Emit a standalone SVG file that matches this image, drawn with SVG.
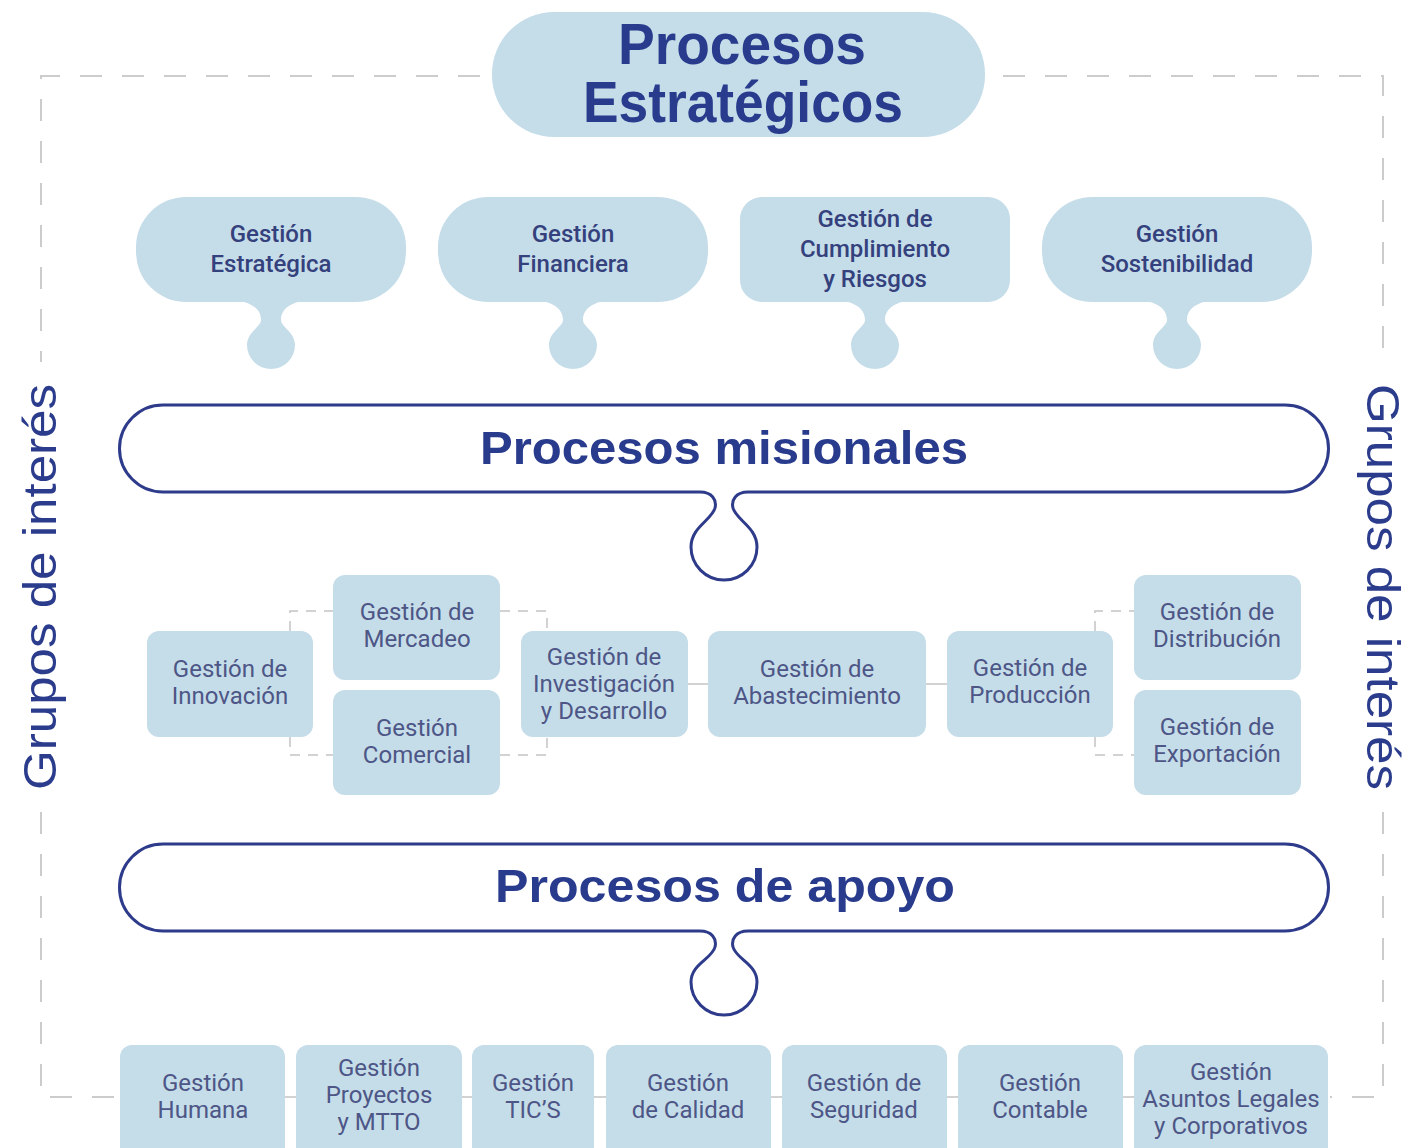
<svg xmlns="http://www.w3.org/2000/svg" width="1409" height="1148" viewBox="0 0 1409 1148">
<style>
.pill{fill:#c5dde9}
.st{font-family:Roboto,"Liberation Sans",sans-serif;font-weight:500;font-size:24px;fill:#34417d;text-anchor:middle}
.nd{font-family:Roboto,"Liberation Sans",sans-serif;font-weight:400;font-size:24px;fill:#4d5686;text-anchor:middle}
.ttl{font-family:"Liberation Sans",Arial,sans-serif;font-weight:700;fill:#283b8c;text-anchor:middle}
.side{font-family:"Liberation Sans",Arial,sans-serif;font-weight:400;font-size:47px;fill:#2b3c8c;text-anchor:middle}
.band{fill:#ffffff;stroke:#2d3b8a;stroke-width:3}
.dash{fill:none;stroke:#cccccc;stroke-width:2;stroke-dasharray:22 20}
.cdash{fill:none;stroke:#c4c4c4;stroke-width:1.5;stroke-dasharray:10 8}
.csol{fill:none;stroke:#c4c4c4;stroke-width:1.5}
</style>
<rect width="1409" height="1148" fill="#ffffff"/>

<g id="border">
<path class="dash" d="M480,76 H41 V362"/>
<path class="dash" d="M41,812 V1097 H120"/>
<path class="dash" d="M1003,76 H1383 V362"/>
<path class="dash" d="M1383,812 V1097 H1330"/>
</g>

<g id="side-labels">
<text class="side" transform="translate(56,587) rotate(-90)" textLength="406" lengthAdjust="spacingAndGlyphs">Grupos de interés</text>
<text class="side" transform="translate(1367,587) rotate(90)" textLength="406" lengthAdjust="spacingAndGlyphs">Grupos de interés</text>
</g>

<g id="title">
<rect class="pill" x="492" y="12" width="493" height="125" rx="62"/>
<text class="ttl" x="742" y="64" font-size="57" textLength="248" lengthAdjust="spacingAndGlyphs">Procesos</text>
<text class="ttl" x="743" y="122" font-size="57" textLength="320" lengthAdjust="spacingAndGlyphs">Estratégicos</text>
</g>

<g id="n-estrategica">
<rect class="pill" x="136" y="197" width="270" height="105" rx="50"/>
<path class="pill" d="M226,300 C253,300 261,310 261,320 C261,327 247,332 247,345 A24,24 0 0 0 295,345 C295,332 281,327 281,320 C281,310 289,300 316,300 Z"/>
<text class="st" x="271" y="242">Gestión</text>
<text class="st" x="271" y="272">Estratégica</text>
</g>
<g id="n-financiera">
<rect class="pill" x="438" y="197" width="270" height="105" rx="50"/>
<path class="pill" d="M528,300 C555,300 563,310 563,320 C563,327 549,332 549,345 A24,24 0 0 0 597,345 C597,332 583,327 583,320 C583,310 591,300 618,300 Z"/>
<text class="st" x="573" y="242">Gestión</text>
<text class="st" x="573" y="272">Financiera</text>
</g>
<g id="n-cumplimiento">
<rect class="pill" x="740" y="197" width="270" height="105" rx="22"/>
<path class="pill" d="M830,300 C857,300 865,310 865,320 C865,327 851,332 851,345 A24,24 0 0 0 899,345 C899,332 885,327 885,320 C885,310 893,300 920,300 Z"/>
<text class="st" x="875" y="227">Gestión de</text>
<text class="st" x="875" y="257">Cumplimiento</text>
<text class="st" x="875" y="287">y Riesgos</text>
</g>
<g id="n-sostenibilidad">
<rect class="pill" x="1042" y="197" width="270" height="105" rx="50"/>
<path class="pill" d="M1132,300 C1159,300 1167,310 1167,320 C1167,327 1153,332 1153,345 A24,24 0 0 0 1201,345 C1201,332 1187,327 1187,320 C1187,310 1195,300 1222,300 Z"/>
<text class="st" x="1177" y="242">Gestión</text>
<text class="st" x="1177" y="272">Sostenibilidad</text>
</g>

<g id="b-misionales">
<path class="band" d="M163,405 H1285 A43.5,43.5 0 0 1 1285,492 H748 C736,492 731,500 733,508 C736,520 757,527 757,547 A33,33 0 0 1 691,547 C691,527 712,520 715,508 C717,500 712,492 700,492 H163 A43.5,43.5 0 0 1 163,405 Z"/>
<text class="ttl" x="724" y="464" font-size="47" textLength="488" lengthAdjust="spacingAndGlyphs">Procesos misionales</text>
</g>

<g id="b-apoyo">
<path class="band" d="M163,844 H1285 A43.5,43.5 0 0 1 1285,931 H748 C736,931 731,939 733,947 C736,959 757,964 757,982 A33,33 0 0 1 691,982 C691,964 712,959 715,947 C717,939 712,931 700,931 H163 A43.5,43.5 0 0 1 163,844 Z"/>
<text class="ttl" x="725" y="902" font-size="47" textLength="460" lengthAdjust="spacingAndGlyphs">Procesos de apoyo</text>
</g>

<g id="connectors">
<path class="cdash" d="M290,631 V611 H333"/>
<path class="cdash" d="M290,737 V755 H333"/>
<path class="cdash" d="M500,611 H547 V631"/>
<path class="cdash" d="M500,755 H547 V737"/>
<path class="cdash" d="M1095,631 V611 H1134"/>
<path class="cdash" d="M1095,737 V755 H1134"/>
<path class="csol" d="M688,684 H708"/>
<path class="csol" d="M926,684 H947"/>
<path class="csol" d="M285,1097 H296 M462,1097 H472 M594,1097 H606 M771,1097 H782 M947,1097 H958 M1123,1097 H1134"/>
</g>

<g id="n-innovacion">
<rect class="pill" x="147" y="631" width="166" height="106" rx="12"/>
<text class="nd" x="230" y="677">Gestión de</text>
<text class="nd" x="230" y="704">Innovación</text>
</g>
<g id="n-mercadeo">
<rect class="pill" x="333" y="575" width="167" height="105" rx="12"/>
<text class="nd" x="417" y="620">Gestión de</text>
<text class="nd" x="417" y="647">Mercadeo</text>
</g>
<g id="n-comercial">
<rect class="pill" x="333" y="690" width="167" height="105" rx="12"/>
<text class="nd" x="417" y="736">Gestión</text>
<text class="nd" x="417" y="763">Comercial</text>
</g>
<g id="n-investigacion">
<rect class="pill" x="521" y="631" width="167" height="106" rx="12"/>
<text class="nd" x="604" y="665">Gestión de</text>
<text class="nd" x="604" y="692">Investigación</text>
<text class="nd" x="604" y="719">y Desarrollo</text>
</g>
<g id="n-abastecimiento">
<rect class="pill" x="708" y="631" width="218" height="106" rx="12"/>
<text class="nd" x="817" y="677">Gestión de</text>
<text class="nd" x="817" y="704">Abastecimiento</text>
</g>
<g id="n-produccion">
<rect class="pill" x="947" y="631" width="166" height="106" rx="12"/>
<text class="nd" x="1030" y="676">Gestión de</text>
<text class="nd" x="1030" y="703">Producción</text>
</g>
<g id="n-distribucion">
<rect class="pill" x="1134" y="575" width="167" height="105" rx="12"/>
<text class="nd" x="1217" y="620">Gestión de</text>
<text class="nd" x="1217" y="647">Distribución</text>
</g>
<g id="n-exportacion">
<rect class="pill" x="1134" y="690" width="167" height="105" rx="12"/>
<text class="nd" x="1217" y="735">Gestión de</text>
<text class="nd" x="1217" y="762">Exportación</text>
</g>

<g id="n-humana">
<rect class="pill" x="120" y="1045" width="165" height="120" rx="12"/>
<text class="nd" x="203" y="1091">Gestión</text>
<text class="nd" x="203" y="1118">Humana</text>
</g>
<g id="n-proyectos">
<rect class="pill" x="296" y="1045" width="166" height="120" rx="12"/>
<text class="nd" x="379" y="1076">Gestión</text>
<text class="nd" x="379" y="1103">Proyectos</text>
<text class="nd" x="379" y="1130">y MTTO</text>
</g>
<g id="n-tics">
<rect class="pill" x="472" y="1045" width="122" height="120" rx="12"/>
<text class="nd" x="533" y="1091">Gestión</text>
<text class="nd" x="533" y="1118">TIC’S</text>
</g>
<g id="n-calidad">
<rect class="pill" x="606" y="1045" width="165" height="120" rx="12"/>
<text class="nd" x="688" y="1091">Gestión</text>
<text class="nd" x="688" y="1118">de Calidad</text>
</g>
<g id="n-seguridad">
<rect class="pill" x="782" y="1045" width="165" height="120" rx="12"/>
<text class="nd" x="864" y="1091">Gestión de</text>
<text class="nd" x="864" y="1118">Seguridad</text>
</g>
<g id="n-contable">
<rect class="pill" x="958" y="1045" width="165" height="120" rx="12"/>
<text class="nd" x="1040" y="1091">Gestión</text>
<text class="nd" x="1040" y="1118">Contable</text>
</g>
<g id="n-asuntos">
<rect class="pill" x="1134" y="1045" width="194" height="120" rx="12"/>
<text class="nd" x="1231" y="1080">Gestión</text>
<text class="nd" x="1231" y="1107">Asuntos Legales</text>
<text class="nd" x="1231" y="1134">y Corporativos</text>
</g>
</svg>
